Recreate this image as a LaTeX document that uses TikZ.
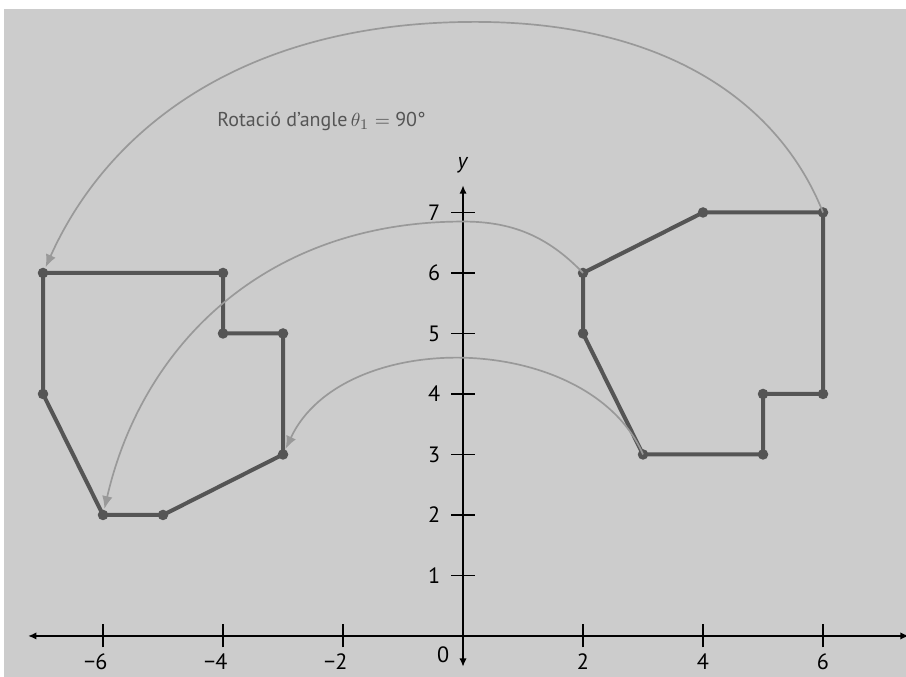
\documentclass[tikz,border=0pt]{standalone}
\usepackage{fontspec}
\setmainfont{PT Sans}
\usetikzlibrary{arrows.meta}
\definecolor{bg}{HTML}{CCCCCC}
\definecolor{polyc}{HTML}{555555}
\definecolor{arcc}{HTML}{999999}
\definecolor{txtc}{HTML}{555555}
\tikzset{
  dot/.style={circle,fill=polyc,inner sep=0pt,minimum size=5pt},
  poly/.style={draw=polyc,line width=1.9pt,line join=round},
  arcline/.style={draw=arcc,line width=0.8pt,-{Latex[length=6pt,width=5pt]},shorten >=3pt},
  axis/.style={draw=black,line width=0.8pt},
  tick/.style={draw=black,line width=0.8pt},
  num/.style={font=\fontsize{10.5}{12}\selectfont,inner sep=0pt}
}
\begin{document}
\begin{tikzpicture}[x=1cm,y=1.0083cm]
\useasboundingbox (-7.717,-0.678) rectangle (7.383,10.512);
\fill[bg] (-7.65,-0.678) rectangle (7.383,10.364);
% axes
\draw[axis,{Latex[length=4pt,width=3.5pt]}-{Latex[length=4pt,width=3.5pt]}] (-7.25,0) -- (7.43,0);
\draw[axis,{Latex[length=4pt,width=3.5pt]}-{Latex[length=4pt,width=3.5pt]}] (0,-0.51) -- (0,7.45);
\foreach \v/\t in {-6/−6,-4/−4,-2/−2}{
  \draw[tick] (\v,-0.19) -- (\v,0.19);
  \node[num] (xl\v) at (\v-0.12,-0.42) {\t};
}
\foreach \v in {2,4,6}{
  \draw[tick] (\v,-0.19) -- (\v,0.19);
  \node[num] (xl\v) at (\v,-0.42) {\v};
}
\foreach \v in {1,...,7}{
  \draw[tick] (-0.2,\v) -- (0.2,\v);
  \node[num] (yl\v) at (-0.48,\v) {\v};
}
\node[num] (zero) at (-0.33,-0.31) {0};
\node[num] (ylab) at (0,7.78) {\textit{y}};
% right polygon
\node[dot] (r1) at (2,6) {};
\node[dot] (r2) at (4,7) {};
\node[dot] (r3) at (6,7) {};
\node[dot] (r4) at (6,4) {};
\node[dot] (r5) at (5,4) {};
\node[dot] (r6) at (5,3) {};
\node[dot] (r7) at (3,3) {};
\node[dot] (r8) at (2,5) {};
% left polygon
\node[dot] (l1) at (-6,2) {};
\node[dot] (l2) at (-7,4) {};
\node[dot] (l3) at (-7,6) {};
\node[dot] (l4) at (-4,6) {};
\node[dot] (l5) at (-4,5) {};
\node[dot] (l6) at (-3,5) {};
\node[dot] (l7) at (-3,3) {};
\node[dot] (l8) at (-5,2) {};
\draw[poly] (r1.center) -- (r2.center) -- (r3.center) -- (r4.center) -- (r5.center) -- (r6.center) -- (r7.center) -- (r8.center) -- cycle;
\draw[poly] (l1.center) -- (l2.center) -- (l3.center) -- (l4.center) -- (l5.center) -- (l6.center) -- (l7.center) -- (l8.center) -- cycle;
% rotation arcs
\coordinate (p1) at (0.2,10.15);
\coordinate (p2) at (0,6.85);
\draw[arcline] (r3.center) .. controls (5.28,8.8) and (3.4,10.15) .. (p1)
   .. controls (-3.76,10.15) and (-5.96,8.3) .. (l3.center);
\draw[arcline] (r1.center) .. controls (1.4,6.62) and (0.8,6.85) .. (p2)
   .. controls (-3.3,6.85) and (-5.35,4.8) .. (l1.center);
\draw[arcline] (r7.center) .. controls (2.1,5.05) and (-2.0,5.12) .. (l7.center);
\node[anchor=west,text=txtc,font=\fontsize{9.5}{11}\selectfont,inner sep=0pt] (lab) at (-4.1,8.5) {Rotació d’angle\,$\theta_1 =$ 90°};
\end{tikzpicture}
\end{document}
